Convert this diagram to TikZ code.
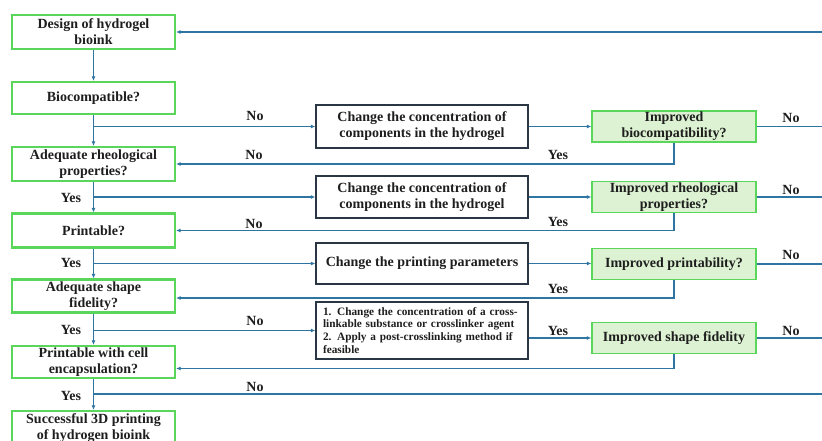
\documentclass[tikz,border=0pt]{standalone}
\usepackage{fontspec}
\setmainfont{Liberation Serif}
\usetikzlibrary{arrows.meta,positioning,calc}
\definecolor{leaf}{HTML}{5AD65A}
\definecolor{mint}{HTML}{DCF2D2}
\definecolor{ink}{HTML}{2B3645}
\definecolor{steel}{HTML}{2E75A2}
\definecolor{txt}{HTML}{1E1E1E}

\begin{document}
\begin{tikzpicture}[x=1pt,y=-1pt,text=txt,
  font=\fontsize{14}{16}\selectfont\bfseries,
  askbox/.style={draw=leaf,line width=2.2pt,minimum width=163pt,align=center,inner sep=1pt},
  fixbox/.style={draw=ink,line width=1.4pt,minimum width=212pt,align=center,inner sep=2pt},
  checkbox/.style={draw=leaf,fill=mint,line width=1.3pt,minimum width=164pt,minimum height=31pt,align=center,inner sep=1pt},
  flow/.style={steel,line width=1.4pt,-{Latex[length=4.5pt,width=4pt]}},
  wire/.style={steel,line width=1.4pt},
  lbl/.style={inner sep=0pt}]
\useasboundingbox (0,0) rectangle (822,441);
\clip (0,0) rectangle (822,441);
\coordinate (edge) at (822,0);
\coordinate (tail) at (822,394);
% questions down the left side
\node[askbox,minimum height=34pt] (b1) at (93.5,32) {Design of hydrogel\\bioink};
\node[askbox,minimum height=32pt] (b2) at (93.5,98) {Biocompatible?};
\node[askbox,minimum height=34pt] (b3) at (93.5,164) {Adequate rheological\\properties?};
\node[askbox,minimum height=34pt] (b4) at (93.5,230.5) {Printable?};
\node[askbox,minimum height=33pt] (b5) at (93.5,296) {Adequate shape\\fidelity?};
\node[askbox,minimum height=32pt] (b6) at (93.5,362) {Printable with cell\\encapsulation?};
\node[askbox,minimum height=34pt] (b7) at (93.5,428) {Successful 3D printing\\of hydrogen bioink};
% corrective steps
\node[fixbox,minimum height=43pt] (c1) at (422,126.5) {Change the concentration of\\components in the hydrogel};
\node[fixbox,minimum height=42pt] (c2) at (422,197) {Change the concentration of\\components in the hydrogel};
\node[fixbox,minimum height=41pt] (c3) at (422,263.5) {Change the printing parameters};
\node[fixbox,minimum height=57pt,inner xsep=6pt,text width=198pt,align=left,font=\fontsize{11.3}{12.9}\selectfont\bfseries] (c4) at (422,330.5)
  {\makebox[\linewidth][s]{1. Change the concentration of a cross-}\\linkable substance or crosslinker agent\\\makebox[\linewidth][s]{2. Apply a post-crosslinking method if}\\feasible};
% checks on the right
\node[checkbox] (i1) at (674,126.5) {Improved\\biocompatibility?};
\node[checkbox] (i2) at (674,197) {Improved rheological\\properties?};
\node[checkbox] (i3) at (674,264) {Improved printability?};
\node[checkbox] (i4) at (674,338) {Improved shape fidelity};
% connectors
\foreach \a/\b in {b1/b2,b2/b3,b3/b4,b4/b5,b5/b6,b6/b7}{\draw[flow] (\a) -- (\b);}
\foreach \a/\c in {b2/c1,b3/c2,b4/c3,b5/c4}{\draw[flow] (\a.south |- \c.west) -- (\c.west);}
\foreach \c/\i in {c1/i1,c2/i2,c3/i3}{\draw[flow] (\c.east) -- (\i.west |- \c.east);}
\draw[flow] (c4.east |- i4.west) -- (i4.west);
\draw[flow] (i1.south) |- (b3.east);
\draw[flow] (i2.south) |- (b4.east);
\draw[flow] (i3.south) |- ([yshift=-2pt]b5.east);
\draw[flow] (i4.south) |- ([yshift=-6.5pt]b6.east);
\foreach \i in {i1,i2,i3,i4}{\draw[wire] (\i.east) -- (edge |- \i.east);}
\draw[wire] (b6.south |- tail) -- (tail);
\draw[flow] (edge |- b1.east) -- (b1.east);
% answers
\foreach \t/\x/\y [count=\k] in {No/255/116,No/254/155,Yes/558/155,No/791/118,Yes/71/198,No/791/190,No/254/224,Yes/558/222,Yes/71/263,No/791/255,Yes/558/289,Yes/71/330,No/255/321,Yes/558/331,No/791/331,Yes/71/396,No/255/387}
  {\node[lbl] (tag\k) at (\x,\y) {\t};}
\end{tikzpicture}
\end{document}
